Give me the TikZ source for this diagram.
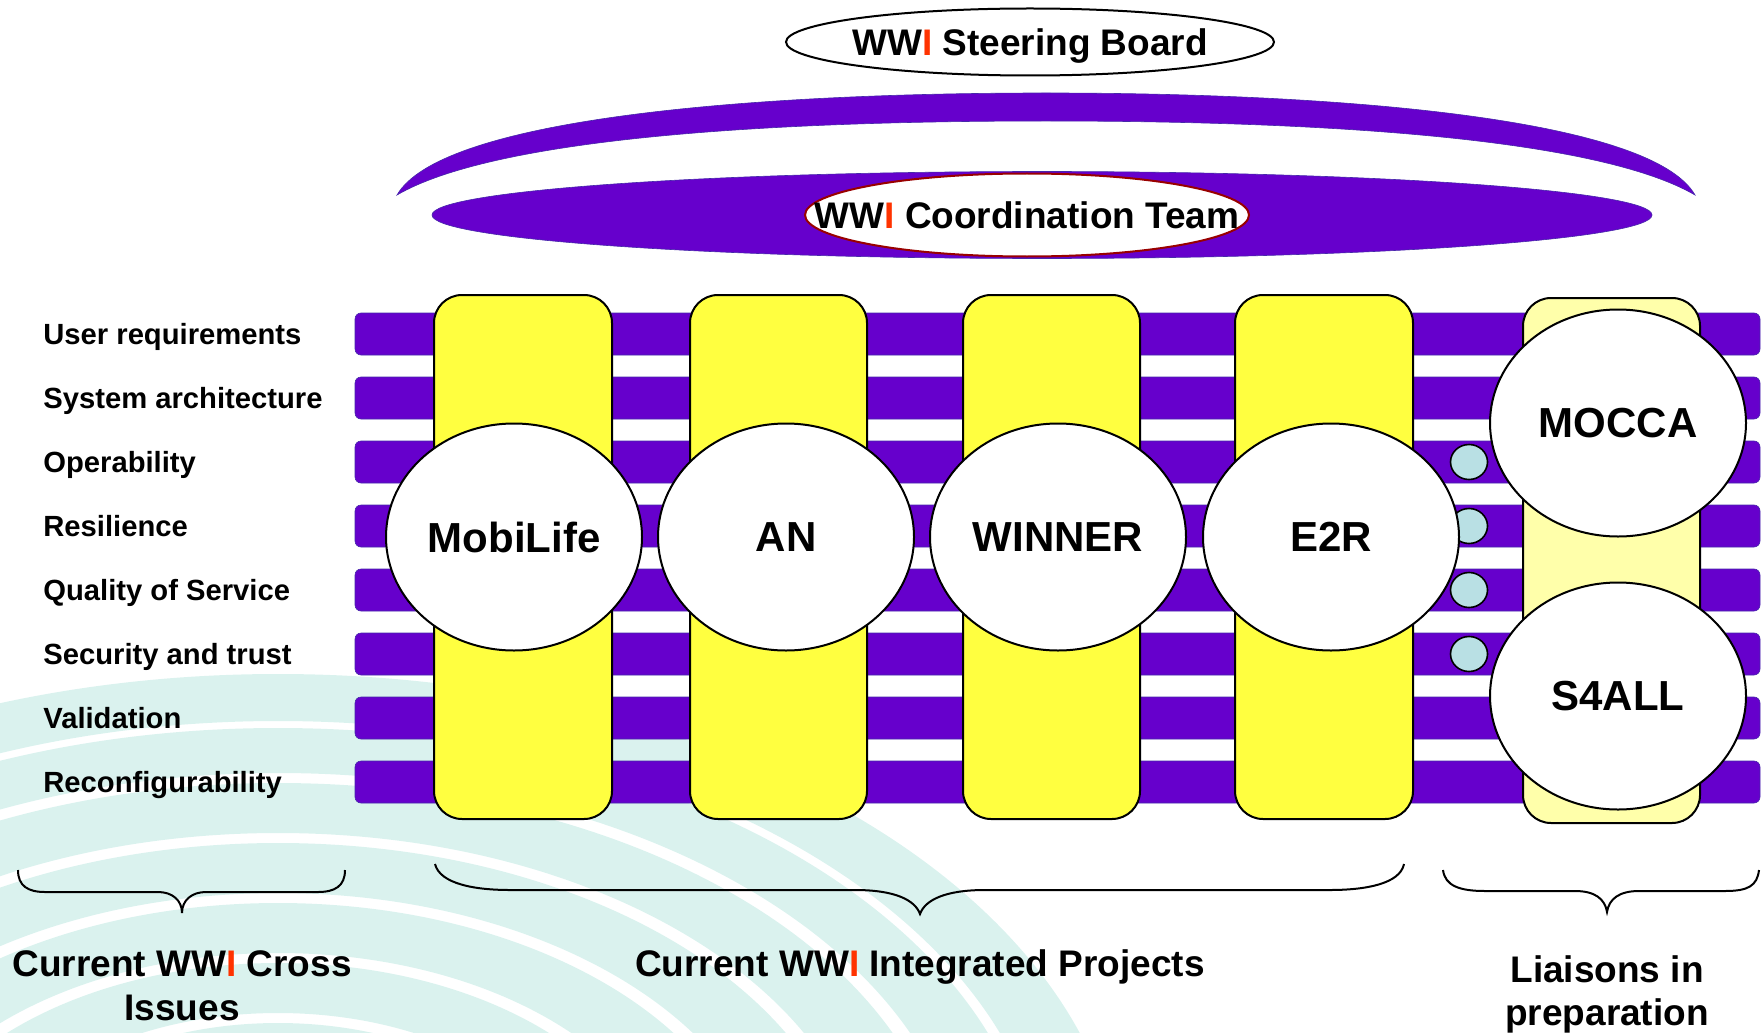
\documentclass[tikz,border=0pt]{standalone}
\usepackage{fontspec}
\setmainfont{Liberation Sans}
\usetikzlibrary{shapes.geometric}
\definecolor{wpurple}{RGB}{102,0,204}
\definecolor{wedge}{RGB}{70,40,170}
\definecolor{wyellow}{RGB}{255,255,64}
\definecolor{wlyellow}{RGB}{255,255,170}
\definecolor{wteal}{RGB}{185,224,228}
\definecolor{wmark}{RGB}{218,242,238}
\definecolor{wred}{RGB}{255,51,0}
\definecolor{wdred}{RGB}{153,0,0}
\newcommand{\WWI}{WW\textcolor{wred}{I}}
\tikzset{
  lbl/.style={anchor=base west, font=\fontsize{14.6}{17}\selectfont\bfseries, inner sep=0},
  hbar/.style={fill=wpurple, draw=wedge, line width=0.3pt, rounded corners=3pt},
  ybar/.style={fill=wyellow, draw=black, line width=1pt, rounded corners=14pt},
  proj/.style={ellipse, draw=black, fill=white, line width=1pt, minimum width=128pt, minimum height=113.5pt, inner sep=0, font=\fontsize{21}{24}\selectfont\bfseries},
  dotc/.style={ellipse, draw=black, fill=wteal, line width=0.8pt, minimum width=18.5pt, minimum height=17.5pt, inner sep=0},
  bracepath/.style={draw=black, line width=1pt},
  captext/.style={anchor=base, font=\fontsize{18.5}{22.5}\selectfont\bfseries, inner sep=0},
  topfont/.style={font=\fontsize{18.5}{22}\selectfont\bfseries, text depth=0pt, inner sep=0},
}
\begin{document}
\begin{tikzpicture}[x=0.5pt,y=-0.5pt]
\useasboundingbox (0,0) rectangle (1764,1032);
% watermark
\begin{scope}
\clip (0,0) rectangle (1764,1032);
\foreach \so/\si in {529/482, 475/430, 420/370, 360/310, 300/250, 240/190, 180/130} {
  \fill[wmark, even odd rule] (278,1203) ellipse [x radius={0.8*\so pt}, y radius={0.5*\so pt}]
        (278,1203) ellipse [x radius={0.8*\si pt}, y radius={0.5*\si pt}];
}
\end{scope}
% top
\node[ellipse, draw=black, line width=1pt, minimum width=244pt, minimum height=33.5pt, inner sep=0] (steer) at (1030,42) {};
\node[topfont] (steertext) at (steer.center) {\WWI\ Steering Board};
\fill[wpurple, draw=wedge, line width=0.3pt] (397,195) .. controls (440,120) and (740,93) .. (1046,93) .. controls (1352,93) and (1652,120) .. (1695,195) .. controls (1600,140) and (1340,121) .. (1046,121) .. controls (752,121) and (492,140) .. (397,195) -- cycle;
\node[ellipse, fill=wpurple, draw=wedge, line width=0.3pt, minimum width=610pt, minimum height=43.5pt, inner sep=0] (ring) at (1042,215) {};
\node[ellipse, draw=wdred, fill=white, line width=1pt, minimum width=222pt, minimum height=41.5pt, inner sep=0] (coord) at (1027,215) {};
\node[topfont] (coordtext) at (coord.center) {\WWI\ Coordination Team};
% horizontal bars and labels
\foreach \c/\t [count=\i] in {334/User requirements, 398/System architecture, 462/Operability, 526/Resilience, 590/Quality of Service, 654/Security and trust, 718/Validation, 782/Reconfigurability} {
  \path[hbar] (355,\c-21) rectangle (1760,\c+21);
  \node[lbl] (lab\i) at (43,\c+10.5) {\t};
}
% vertical bars
\path[ybar] (434,295) rectangle (612,819);
\path[ybar] (690,295) rectangle (867,819);
\path[ybar] (963,295) rectangle (1140,819);
\path[ybar] (1235,295) rectangle (1413,819);
\path[ybar, fill=wlyellow] (1523,298) rectangle (1700,823);
% small dots
\foreach \c [count=\i] in {462,526,590,654} {
  \node[dotc] (dot\i) at (1469,\c) {};
}
% project ellipses
\node[proj] (mobilife) at (514,537) {MobiLife};
\node[proj] (an) at (786,537) {AN};
\node[proj] (winner) at (1058,537) {WINNER};
\node[proj] (e2r) at (1331,537) {E2R};
\node[proj] (mocca) at (1618,423) {MOCCA};
\node[proj] (s4all) at (1618,696) {S4ALL};
% braces
\draw[bracepath] (18,870) .. controls (18,886) and (28,892) .. (45,892) -- (158,892) .. controls (172,892) and (182,900) .. (182,913) .. controls (182,900) and (192,892) .. (206,892) -- (318,892) .. controls (335,892) and (345,886) .. (345,870);
\draw[bracepath] (435,864) .. controls (440,884) and (475,890) .. (510,890) -- (855,890) .. controls (895,890) and (915,900) .. (920,914) .. controls (925,900) and (945,890) .. (985,890) -- (1330,890) .. controls (1365,890) and (1400,884) .. (1404,864);
\draw[bracepath] (1443,870) .. controls (1445,886) and (1460,891) .. (1485,891) -- (1575,891) .. controls (1595,891) and (1605,899) .. (1607,912) .. controls (1609,899) and (1619,891) .. (1639,891) -- (1725,891) .. controls (1748,891) and (1757,886) .. (1759,870);
% captions
\node[captext] (cross1) at (182,976) {Current \WWI\ Cross};
\node[captext] (cross2) at (182,1020) {Issues};
\node[captext] (integ) at (920,976) {Current \WWI\ Integrated Projects};
\node[captext] (liai1) at (1607,982) {Liaisons in};
\node[captext] (liai2) at (1607,1025) {preparation};
\end{tikzpicture}
\end{document}
